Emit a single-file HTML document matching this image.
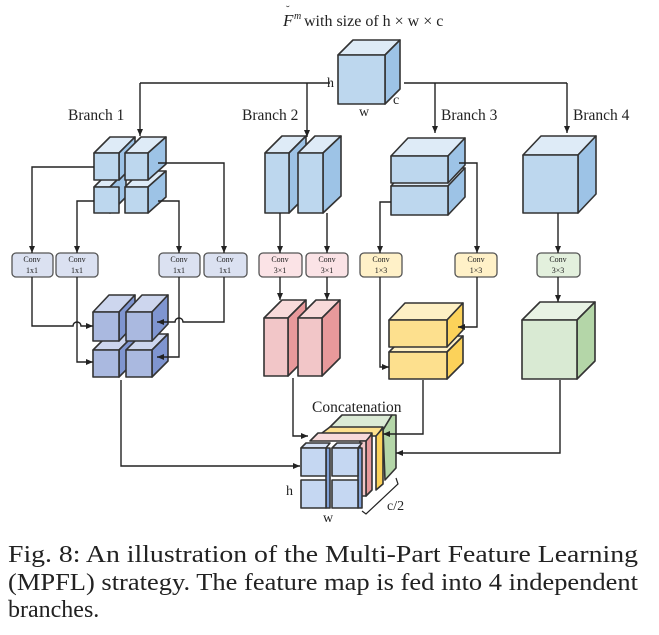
<!DOCTYPE html>
<html><head><meta charset="utf-8"><style>
html,body{margin:0;padding:0;background:#fff;}
svg{display:block;}
text{font-family:"Liberation Serif",serif;fill:#222;}
</style></head><body>
<svg width="659" height="635" viewBox="0 0 659 635" xmlns="http://www.w3.org/2000/svg">
<defs>
<marker id="a" markerWidth="8" markerHeight="8" refX="7" refY="4" orient="auto" markerUnits="userSpaceOnUse">
<path d="M0,1 L7,4 L0,7 z" fill="#222"/></marker>
</defs>
<g stroke="#333" stroke-width="1.6" stroke-linejoin="round">
<polygon points="338,55 353,40 400,40 385,55" fill="#deebf7"/>
<polygon points="385,55 400,40 400,89 385,104" fill="#9dc3e6"/>
<rect x="338" y="55" width="47" height="49" fill="#bdd7ee"/>
<polygon points="94,187 110,171 126,171 110,187" fill="#deebf7"/><polygon points="110,187 126,171 126,197 110,213" fill="#9dc3e6"/><rect x="94" y="187" width="25" height="26" fill="#bdd7ee"/>
<polygon points="125,187 141,171 166,171 148,187" fill="#deebf7"/><polygon points="148,187 166,171 166,197 148,213" fill="#9dc3e6"/><rect x="125" y="187" width="23" height="26" fill="#bdd7ee"/>
<polygon points="94,153 110,137 135,137 119,153" fill="#deebf7"/><polygon points="119,153 135,137 135,164 119,180" fill="#9dc3e6"/><rect x="94" y="153" width="25" height="27" fill="#bdd7ee"/>
<polygon points="125,153 141,137 166,137 148,153" fill="#deebf7"/><polygon points="148,153 166,137 166,164 148,180" fill="#9dc3e6"/><rect x="125" y="153" width="23" height="27" fill="#bdd7ee"/>
<polygon points="265,153 282,136 306,136 289,153" fill="#deebf7"/><polygon points="289,153 306,136 306,196 289,213" fill="#9dc3e6"/><rect x="265" y="153" width="24" height="60" fill="#bdd7ee"/>
<polygon points="298,153 315,136 341,136 323,153" fill="#deebf7"/><polygon points="323,153 341,136 341,196 323,213" fill="#9dc3e6"/><rect x="298" y="153" width="25" height="60" fill="#bdd7ee"/>
<polygon points="391,186 408,168 465,168 448,186" fill="#deebf7"/><polygon points="448,186 465,168 465,197 448,215" fill="#9dc3e6"/><rect x="391" y="186" width="57" height="29" fill="#bdd7ee"/>
<polygon points="391,156 408,138 465,138 448,156" fill="#deebf7"/><polygon points="448,156 465,138 465,165 448,183" fill="#9dc3e6"/><rect x="391" y="156" width="57" height="27" fill="#bdd7ee"/>
<polygon points="523,155 541,136 596,136 578,155" fill="#deebf7"/><polygon points="578,155 596,136 596,194 578,213" fill="#9dc3e6"/><rect x="523" y="155" width="55" height="58" fill="#bdd7ee"/>
<polygon points="93,350 109,334 135,334 119,350" fill="#cdd6ee"/><polygon points="119,350 135,334 135,361 119,377" fill="#7f95d0"/><rect x="93" y="350" width="26" height="27" fill="#aab9e0"/>
<polygon points="126,350 142,334 168,334 152,350" fill="#cdd6ee"/><polygon points="152,350 168,334 168,361 152,377" fill="#7f95d0"/><rect x="126" y="350" width="26" height="27" fill="#aab9e0"/>
<polygon points="93,312 109,295 135,295 119,312" fill="#cdd6ee"/><polygon points="119,312 135,295 135,324 119,341" fill="#7f95d0"/><rect x="93" y="312" width="26" height="29" fill="#aab9e0"/>
<polygon points="126,312 142,295 168,295 152,312" fill="#cdd6ee"/><polygon points="152,312 168,295 168,324 152,341" fill="#7f95d0"/><rect x="126" y="312" width="26" height="29" fill="#aab9e0"/>
<polygon points="264,318 282,300 306,300 288,318" fill="#f8dada"/><polygon points="288,318 306,300 306,358 288,376" fill="#e8999b"/><rect x="264" y="318" width="24" height="58" fill="#f2c6c8"/>
<polygon points="298,318 316,300 340,300 322,318" fill="#f8dada"/><polygon points="322,318 340,300 340,358 322,376" fill="#e8999b"/><rect x="298" y="318" width="24" height="58" fill="#f2c6c8"/>
<polygon points="389,352 405,336 463,336 447,352" fill="#fef0c4"/><polygon points="447,352 463,336 463,363 447,379" fill="#fcd25a"/><rect x="389" y="352" width="58" height="27" fill="#fde08e"/>
<polygon points="389,320 405,303 463,303 447,320" fill="#fef0c4"/><polygon points="447,320 463,303 463,330 447,347" fill="#fcd25a"/><rect x="389" y="320" width="58" height="27" fill="#fde08e"/>
<polygon points="522,320 540,302 595,302 577,320" fill="#e8f2e4"/><polygon points="577,320 595,302 595,361 577,379" fill="#b4d6a8"/><rect x="522" y="320" width="55" height="59" fill="#d9ead3"/>
<polygon points="327,430 342,415 392,415 383,430" fill="#dcebd6"/>
<polygon points="383,430 392,415 396,415 396,468 385,480" fill="#b4d6a8"/>
<polygon points="318,436 330,427 383,427 377,436" fill="#fde08e"/>
<polygon points="376,436 383,428 383,484 376,490" fill="#fcd25a"/>
<polygon points="310,441 318,433 372,433 367,441" fill="#f8dada"/>
<polygon points="366,441 372,434 372,490 366,496" fill="#e8999b"/>
<rect x="360" y="441" width="6" height="55" fill="#f2c6c8"/>
<polygon points="301,448 306,443 330,443 326,448" fill="#d6e2f6"/><polygon points="332,448 337,443 362,443 358,448" fill="#d6e2f6"/>
<rect x="326" y="448" width="4" height="60" fill="#7fa0d8"/><rect x="358" y="448" width="4" height="60" fill="#7fa0d8"/>
<rect x="301" y="448" width="25" height="28" fill="#c5d7f2"/><rect x="332" y="448" width="26" height="28" fill="#c5d7f2"/>
<rect x="301" y="480" width="25" height="28" fill="#c5d7f2"/><rect x="332" y="480" width="26" height="28" fill="#c5d7f2"/>
</g>
<g stroke="#555" stroke-width="1.3">
<rect x="12" y="253" width="41" height="24" rx="4" fill="#dbe1f1"/>
<rect x="56" y="253" width="42" height="24" rx="4" fill="#dbe1f1"/>
<rect x="159" y="253" width="41" height="24" rx="4" fill="#dbe1f1"/>
<rect x="204" y="253" width="43" height="24" rx="4" fill="#dbe1f1"/>
<rect x="259" y="253" width="43" height="24" rx="4" fill="#fbe3e6"/>
<rect x="306" y="253" width="42" height="24" rx="4" fill="#fbe3e6"/>
<rect x="360" y="253" width="42" height="24" rx="4" fill="#fff1c8"/>
<rect x="455" y="253" width="42" height="24" rx="4" fill="#fff1c8"/>
<rect x="537" y="253" width="43" height="24" rx="4" fill="#e3f0dd"/>
</g>
<g font-size="8" text-anchor="middle">
<text x="32" y="262">Conv</text><text x="32" y="273">1x1</text>
<text x="77" y="262">Conv</text><text x="77" y="273">1x1</text>
<text x="179" y="262">Conv</text><text x="179" y="273">1x1</text>
<text x="225" y="262">Conv</text><text x="225" y="273">1x1</text>
<text x="280" y="262">Conv</text><text x="280" y="273">3×1</text>
<text x="327" y="262">Conv</text><text x="327" y="273">3×1</text>
<text x="381" y="262">Conv</text><text x="381" y="273">1×3</text>
<text x="476" y="262">Conv</text><text x="476" y="273">1×3</text>
<text x="558" y="262">Conv</text><text x="558" y="273">3×3</text>
</g>
<g stroke="#222" stroke-width="1.4" fill="none">
<path d="M140,83 H330 M404,83 H567"/>
<path d="M140,83 V136" marker-end="url(#a)"/>
<path d="M307,83 V137" marker-end="url(#a)"/>
<path d="M435,83 V133" marker-end="url(#a)"/>
<path d="M567,83 V133" marker-end="url(#a)"/>
<path d="M94,167 H32 V253" marker-end="url(#a)"/>
<path d="M94,201 H77 V253" marker-end="url(#a)"/>
<path d="M158,163 H224 V253" marker-end="url(#a)"/>
<path d="M158,201 H179 V253" marker-end="url(#a)"/>
<path d="M280,213 V253" marker-end="url(#a)"/>
<path d="M327,213 V253" marker-end="url(#a)"/>
<path d="M459,163 H477 V253" marker-end="url(#a)"/>
<path d="M391,202 H380 V253" marker-end="url(#a)"/>
<path d="M558,213 V253" marker-end="url(#a)"/>
<path d="M32,277 V326 H73 a4,4 0 0 1 8,0 H93" marker-end="url(#a)"/>
<path d="M77,277 V362 H93" marker-end="url(#a)"/>
<path d="M224,277 V322 H183 a4,4 0 0 0 -8,0 H157" marker-end="url(#a)"/>
<path d="M179,277 V357 H157" marker-end="url(#a)"/>
<path d="M280,277 V300" marker-end="url(#a)"/>
<path d="M327,277 V300" marker-end="url(#a)"/>
<path d="M477,277 V327 H458" marker-end="url(#a)"/>
<path d="M380,277 V367 H389" marker-end="url(#a)"/>
<path d="M558,277 V302" marker-end="url(#a)"/>
<path d="M121,380 V466 H300" marker-end="url(#a)"/>
<path d="M293,378 V436 H308" marker-end="url(#a)"/>
<path d="M423,380 V434 H383" marker-end="url(#a)"/>
<path d="M560,380 V453 H396" marker-end="url(#a)"/>
<path d="M362,511 L366,514 L398,484 L396,478" stroke-width="1.2"/>
</g>
<text x="283" y="26" font-size="17" font-style="italic">F</text>
<text x="286" y="13" font-size="11">˘</text>
<text x="294" y="19" font-size="10" font-style="italic">m</text>
<text x="304" y="26" font-size="16">with size of h × w × c</text>
<text x="327" y="87" font-size="14">h</text>
<text x="393" y="104" font-size="14">c</text>
<text x="359" y="116" font-size="14">w</text>
<g font-size="15.5">
<text x="68" y="120">Branch 1</text>
<text x="242" y="120">Branch 2</text>
<text x="441" y="120">Branch 3</text>
<text x="573" y="120">Branch 4</text>
<text x="312" y="412">Concatenation</text>
</g>
<text x="286" y="495" font-size="14">h</text>
<text x="323" y="522" font-size="14">w</text>
<text x="387" y="510" font-size="14">c/2</text>
<text x="8" y="562" style="font-size:24px" textLength="630" lengthAdjust="spacingAndGlyphs">Fig. 8: An illustration of the Multi-Part Feature Learning</text>
<text x="8" y="590" style="font-size:24px" textLength="630" lengthAdjust="spacingAndGlyphs">(MPFL) strategy. The feature map is fed into 4 independent</text>
<text x="8" y="617" style="font-size:24px">branches.</text>
</svg>
</body></html>
